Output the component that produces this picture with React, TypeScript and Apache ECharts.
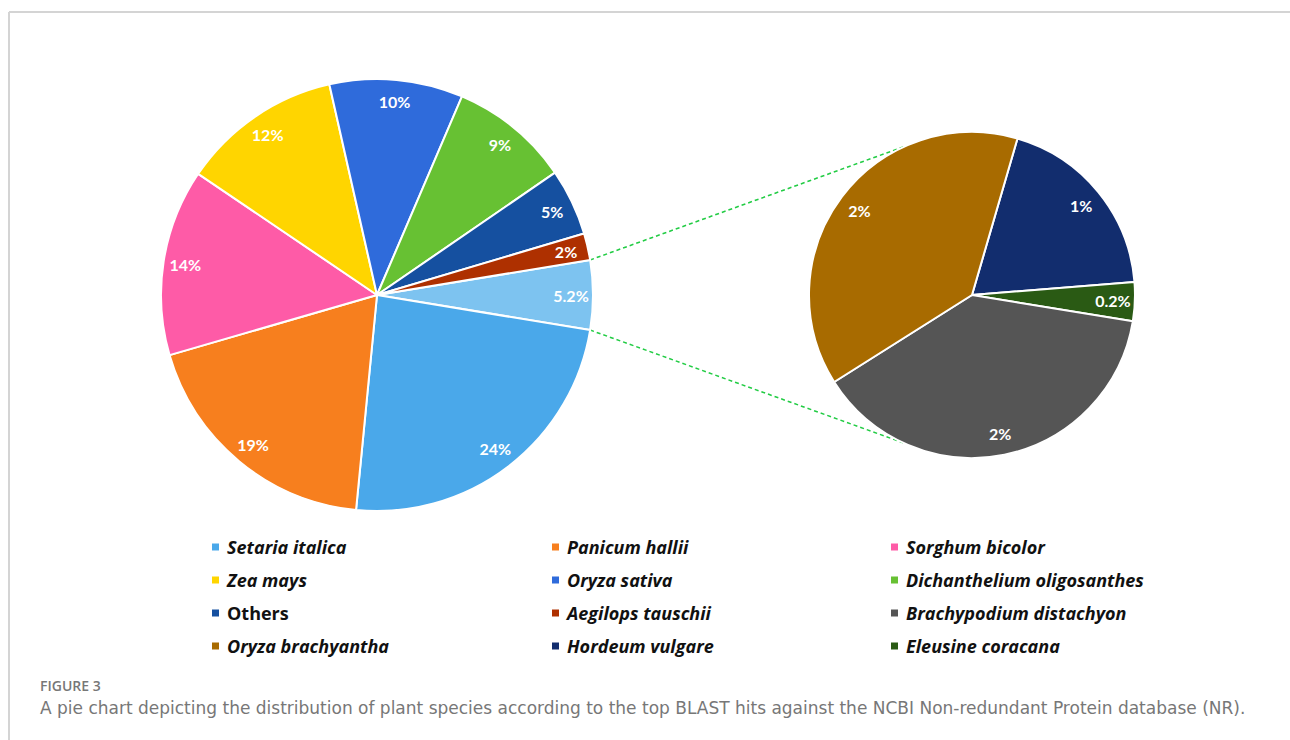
import React, { useEffect, useRef } from "react";
import * as echarts from "echarts";

const mainNames = [
  "Other (composite)",
  "Setaria italica",
  "Panicum hallii",
  "Sorghum bicolor",
  "Zea mays",
  "Oryza sativa",
  "Dichanthelium oligosanthes",
  "Others",
  "Aegilops tauschii",
];
const mainValues = [5.2, 24, 19, 14, 12, 10, 9, 5, 2];
const mainColors = ["#7DC3F0", "#4AA8EA", "#F77F1E", "#FE5BA7", "#FFD500", "#2F6BDB", "#67C133", "#1550A0", "#AE3000"];

const subNames = ["Hordeum vulgare", "Eleusine coracana", "Brachypodium distachyon", "Oryza brachyantha"];
const subValues = [1, 0.2, 2, 2];
const subColors = ["#122D6E", "#2A5A14", "#555555", "#A86B00"];

const legendCols = [
  ["Setaria italica", "Zea mays", "Others", "Oryza brachyantha"],
  ["Panicum hallii", "Oryza sativa", "Aegilops tauschii", "Hordeum vulgare"],
  ["Sorghum bicolor", "Dichanthelium oligosanthes", "Brachypodium distachyon", "Eleusine coracana"],
];

const figureLabel = "FIGURE 3";
const caption =
  "A pie chart depicting the distribution of plant species according to the top BLAST hits against the NCBI Non-redundant Protein database (NR).";

export default function App() {
  const ref = useRef<HTMLDivElement>(null);
  useEffect(() => {
    const chart = echarts.init(ref.current!, null, { renderer: "svg" });
    const font = "Lato";
    const mc = [377, 295];
    const mr = 216;
    const sc = [972, 295];
    const sr = 163;
    const total = mainValues.reduce((a, b) => a + b, 0);
    const halfAngle = (mainValues[0] / total) * 180;
    const subStart = 73.8;

    const mainData = mainNames.map((n, i) => ({ name: n, value: mainValues[i], itemStyle: { color: mainColors[i] } }));
    const subData = subNames.map((n, i) => ({ name: n, value: subValues[i], itemStyle: { color: subColors[i] } }));

    const labelSeries = (data: any[], center: number[], r: number, start: number) => ({
      type: "pie",
      center,
      radius: [r - 50, r],
      startAngle: start,
      clockwise: true,
      silent: true,
      animation: false,
      data: data.map((d) => ({ name: "lbl-" + d.name, value: d.value, itemStyle: { color: "rgba(0,0,0,0)" } })),
      itemStyle: { borderWidth: 0 },
      label: {
        show: true,
        position: "inside",
        formatter: (p: any) => p.value + "%",
        color: "#fff",
        fontFamily: font,
        fontWeight: "bold",
        fontSize: 16,
      },
      labelLine: { show: false },
    });

    const pt = (c: number[], r: number, deg: number) => [
      c[0] + r * Math.cos((deg * Math.PI) / 180),
      c[1] - r * Math.sin((deg * Math.PI) / 180),
    ];
    const a1 = pt(mc, mr, halfAngle);
    const a2 = pt(mc, mr, -halfAngle);
    const b1 = pt(sc, sr, 114);
    const b2 = pt(sc, sr, -115);

    const richText = { fontFamily: "Open Sans", fontWeight: "bold", fontSize: 18, color: "#111", lineHeight: 20 };

    chart.setOption({
      animation: false,
      legend: legendCols.map((col, i) => ({
        orient: "vertical",
        left: [210, 550, 889][i],
        top: 538,
        padding: 0,
        data: col,
        icon: "rect",
        itemWidth: 9,
        itemHeight: 9,
        itemGap: 15,
        selectedMode: false,
        formatter: (name: string) => (name === "Others" ? `{n|${name}}` : `{i|${name}}`),
        textStyle: {
          padding: [0, 0, 0, 2],
          height: 20,
          rich: {
            i: { ...richText, fontStyle: "italic" },
            n: { ...richText, fontStyle: "normal" },
          },
        },
      })),
      graphic: [
        { type: "line", shape: { x1: 9, y1: 12, x2: 1290, y2: 12 }, style: { stroke: "#d4d4d4", lineWidth: 2 } },
        { type: "line", shape: { x1: 9, y1: 12, x2: 9, y2: 740 }, style: { stroke: "#d4d4d4", lineWidth: 2 } },
        {
          type: "line",
          shape: { x1: a1[0], y1: a1[1], x2: b1[0], y2: b1[1] },
          style: { stroke: "#22CC44", lineWidth: 1.5, lineDash: [4, 3] },
        },
        {
          type: "line",
          shape: { x1: a2[0], y1: a2[1], x2: b2[0], y2: b2[1] },
          style: { stroke: "#22CC44", lineWidth: 1.5, lineDash: [4, 3] },
        },
        {
          type: "text",
          x: 40,
          y: 678,
          style: { text: figureLabel, fontFamily: "Open Sans", fontWeight: 600, fontSize: 14, fill: "#777" },
        },
        {
          type: "text",
          x: 40,
          y: 699,
          style: { text: caption, fontFamily: "DejaVu Sans", fontSize: 17, fill: "#777" },
        },
      ],
      series: [
        {
          type: "pie",
          center: mc,
          radius: [0, mr],
          startAngle: halfAngle,
          clockwise: true,
          data: mainData,
          itemStyle: { borderColor: "#fff", borderWidth: 2 },
          label: { show: false },
          labelLine: { show: false },
          emphasis: { disabled: true },
        },
        {
          type: "pie",
          center: sc,
          radius: [0, sr],
          startAngle: subStart,
          clockwise: true,
          data: subData,
          itemStyle: { borderColor: "#fff", borderWidth: 2 },
          label: { show: false },
          labelLine: { show: false },
          emphasis: { disabled: true },
        },
        labelSeries(mainData, mc, mr, halfAngle),
        labelSeries(subData, sc, sr, subStart),
      ],
    });
    return () => chart.dispose();
  }, []);
  return <div ref={ref} style={{ position: "absolute", left: 0, top: 0, width: 1290, height: 740, background: "#fff" }} />;
}
